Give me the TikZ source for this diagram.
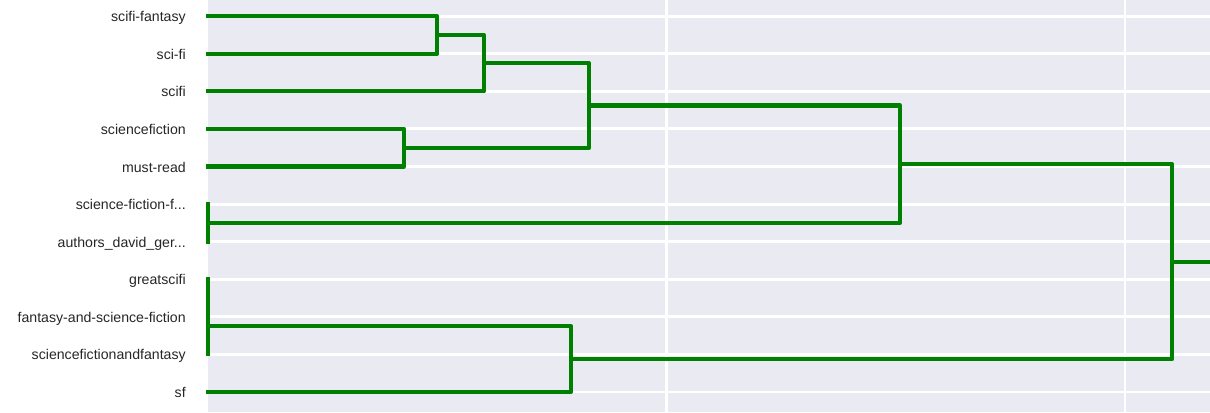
\documentclass[tikz,border=0pt]{standalone}
\usepackage{fontspec}
\setmainfont{Liberation Sans}
\usetikzlibrary{
	calc,
	positioning,
}
\definecolor{axbg}{HTML}{EAEAF2}
\definecolor{ticktext}{HTML}{262626}
\definecolor{linkgreen}{RGB}{0,128,0}
\tikzset{leaf label/.style={anchor=base east,inner sep=0pt,font=\fontsize{10.6}{12}\selectfont,text=ticktext,}}
\tikzset{grid line/.style={white,line width=2.2pt,}}
\tikzset{link/.style={linkgreen,line width=3.1pt,line join=round,line cap=rect,}}
\tikzset{
	x=0.75pt,
	y=-0.75pt,
}

\begin{document}
\begin{tikzpicture}

\useasboundingbox (0,0) rectangle (1210,412);
\fill[axbg] (208,0) rectangle (1210,412);
\coordinate(right) at (1210,0);

% leaf ends
\coordinate(l1) at (208,16.2);
\coordinate(l2) at (208,53.8);
\coordinate(l3) at (208,91.4);
\coordinate(l4) at (208,128.9);
\coordinate(l5) at (208,166.5);
\coordinate(l6) at (208,204.1);
\coordinate(l7) at (208,241.7);
\coordinate(l8) at (208,279.3);
\coordinate(l9) at (208,316.8);
\coordinate(l10) at (208,354.4);
\coordinate(l11) at (208,392.0);

% grid
\coordinate(g1) at (666.5,0);
\coordinate(g2) at (1125,0);
\draw[grid line] (g1) -- ++(0,412);
\draw[grid line] (g2) -- ++(0,412);
\draw[grid line] (l1) -- (l1 -| right);
\draw[grid line] (l2) -- (l2 -| right);
\draw[grid line] (l3) -- (l3 -| right);
\draw[grid line] (l4) -- (l4 -| right);
\draw[grid line] (l5) -- (l5 -| right);
\draw[grid line] (l6) -- (l6 -| right);
\draw[grid line] (l7) -- (l7 -| right);
\draw[grid line] (l8) -- (l8 -| right);
\draw[grid line] (l9) -- (l9 -| right);
\draw[grid line] (l10) -- (l10 -| right);
\draw[grid line] (l11) -- (l11 -| right);

% labels
\node[leaf label](t1) at ($(l1)+(-22,5.5)$) {scifi-fantasy};
\node[leaf label](t2) at ($(l2)+(-22,5.5)$) {sci-fi};
\node[leaf label](t3) at ($(l3)+(-22,5.5)$) {scifi};
\node[leaf label](t4) at ($(l4)+(-22,5.5)$) {sciencefiction};
\node[leaf label](t5) at ($(l5)+(-22,5.5)$) {must-read};
\node[leaf label](t6) at ($(l6)+(-22,5.5)$) {science-fiction-f...};
\node[leaf label](t7) at ($(l7)+(-22,5.5)$) {authors\_david\_ger...};
\node[leaf label](t8) at ($(l8)+(-22,5.5)$) {greatscifi};
\node[leaf label](t9) at ($(l9)+(-22,5.5)$) {fantasy-and-science-fiction};
\node[leaf label](t10) at ($(l10)+(-22,5.5)$) {sciencefictionandfantasy};
\node[leaf label](t11) at ($(l11)+(-22,5.5)$) {sf};

% merges
\coordinate(m1) at (437,35.0);
\coordinate(m2) at (484,63.2);
\coordinate(m3) at (404,147.7);
\coordinate(m4) at (589,105.5);
\coordinate(m5) at (208,222.9);
\coordinate(m6) at (900,164.2);
\coordinate(m7) at (208,298.0);
\coordinate(m8) at (208,326.2);
\coordinate(m9) at (571,359.1);
\coordinate(m10) at (1172,261.7);

\draw[link] (l1) -| (m1) |- (l2);
\draw[link] (m1) -| (m2) |- (l3);
\draw[link] (l4) -| (m3) |- (l5);
\draw[link] (m2) -| (m4) |- (m3);
\draw[link] (l6) -| (m5) |- (l7);
\draw[link] (m4) -| (m6) |- (m5);
\draw[link] (l8) -| (m7) |- (l9);
\draw[link] (m7) -| (m8) |- (l10);
\draw[link] (m8) -| (m9) |- (l11);
\draw[link] (m6) -| (m10) |- (m9);
\draw[link] (m10) -- (m10 -| right);

\end{tikzpicture}
\end{document}
